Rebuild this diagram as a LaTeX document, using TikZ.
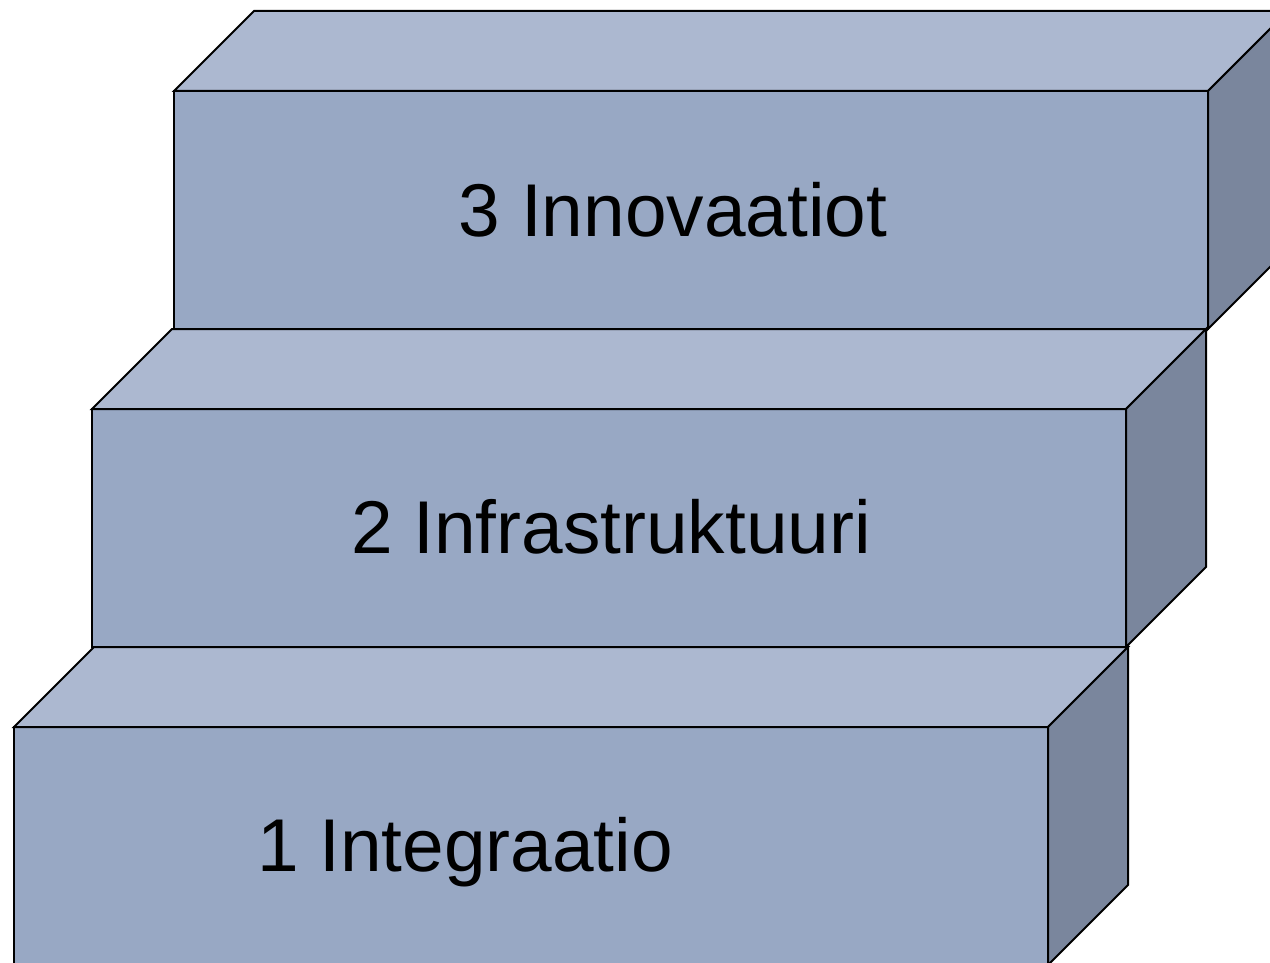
\documentclass[tikz,border=0pt]{standalone}
\usepackage{fontspec}
\setmainfont{Liberation Sans}
\definecolor{stepfront}{RGB}{152,168,196}
\definecolor{steptop}{RGB}{172,184,208}
\definecolor{stepside}{RGB}{122,134,157}
\usetikzlibrary{positioning}
\tikzset{
  frontface/.style={fill=stepfront, draw=black, line width=1pt, inner sep=0, outer sep=0, minimum width=517pt, minimum height=119pt},
  topface/.style={fill=steptop, draw=black, line width=1pt},
  sideface/.style={fill=stepside, draw=black, line width=1pt},
  steplabel/.style={anchor=base, font=\fontsize{37.4}{44}\selectfont}
}

\begin{document}
\begin{tikzpicture}[x=0.5pt, y=-0.5pt]
  \useasboundingbox (0,0) rectangle (1270,963);
  \clip (0,0) rectangle (1270,963);

  % front faces of the steps
  \node[frontface, anchor=north west] (front1) at (14,727) {};
  \node[frontface, above right=40pt and 39pt of front1.north west] (front2) {};
  \node[frontface, above right=40pt and 41pt of front2.north west] (front3) {};

  % top and side faces
  \foreach \n in {1,2,3} {
    \draw[topface] (front\n.north west) -- ++(40pt,40pt) -- ([shift={(40pt,40pt)}]front\n.north east) -- (front\n.north east) -- cycle;
    \draw[sideface] (front\n.north east) -- ++(40pt,40pt) -- ([shift={(40pt,40pt)}]front\n.south east) -- (front\n.south east) -- cycle;
  }

  \node[steplabel, xshift=-33pt, yshift=-12.5pt] (lab1) at (front1.center) {1 Integraatio};
  \node[steplabel, xshift=1pt, yshift=-12.5pt] (lab2) at (front2.center) {2 Infrastruktuuri};
  \node[steplabel, xshift=-9pt, yshift=-13pt] (lab3) at (front3.center) {3 Innovaatiot};

\end{tikzpicture}
\end{document}
